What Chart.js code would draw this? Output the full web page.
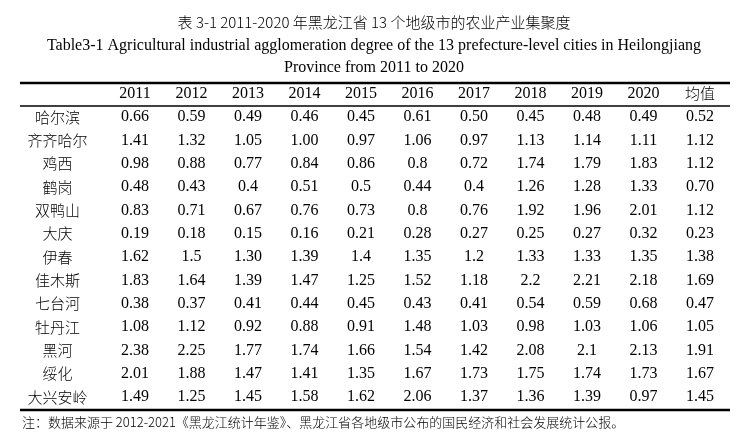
<!DOCTYPE html>
<html lang="zh">
<head>
<meta charset="UTF-8">
<script src="https://cdn.jsdelivr.net/npm/chart.js"></script>
<style>
  html, body { margin: 0; padding: 0; background: #fff; }
  #wrap { width: 748px; height: 439px; }
</style>
</head>
<body>
<div id="wrap"><canvas id="tbl"></canvas></div>
<script>
const columns = ['2011', '2012', '2013', '2014', '2015', '2016', '2017', '2018', '2019', '2020', '均值'];
const cities = ['哈尔滨', '齐齐哈尔', '鸡西', '鹤岗', '双鸭山', '大庆', '伊春', '佳木斯', '七台河', '牡丹江', '黑河', '绥化', '大兴安岭'];
// values as printed in the table, one array per city
const harbin     = ['0.66', '0.59', '0.49', '0.46', '0.45', '0.61', '0.50', '0.45', '0.48', '0.49', '0.52'];
const qiqihar    = ['1.41', '1.32', '1.05', '1.00', '0.97', '1.06', '0.97', '1.13', '1.14', '1.11', '1.12'];
const jixi       = ['0.98', '0.88', '0.77', '0.84', '0.86', '0.8', '0.72', '1.74', '1.79', '1.83', '1.12'];
const hegang     = ['0.48', '0.43', '0.4', '0.51', '0.5', '0.44', '0.4', '1.26', '1.28', '1.33', '0.70'];
const shuangyashan = ['0.83', '0.71', '0.67', '0.76', '0.73', '0.8', '0.76', '1.92', '1.96', '2.01', '1.12'];
const daqing     = ['0.19', '0.18', '0.15', '0.16', '0.21', '0.28', '0.27', '0.25', '0.27', '0.32', '0.23'];
const yichun     = ['1.62', '1.5', '1.30', '1.39', '1.4', '1.35', '1.2', '1.33', '1.33', '1.35', '1.38'];
const jiamusi    = ['1.83', '1.64', '1.39', '1.47', '1.25', '1.52', '1.18', '2.2', '2.21', '2.18', '1.69'];
const qitaihe    = ['0.38', '0.37', '0.41', '0.44', '0.45', '0.43', '0.41', '0.54', '0.59', '0.68', '0.47'];
const mudanjiang = ['1.08', '1.12', '0.92', '0.88', '0.91', '1.48', '1.03', '0.98', '1.03', '1.06', '1.05'];
const heihe      = ['2.38', '2.25', '1.77', '1.74', '1.66', '1.54', '1.42', '2.08', '2.1', '2.13', '1.91'];
const suihua     = ['2.01', '1.88', '1.47', '1.41', '1.35', '1.67', '1.73', '1.75', '1.74', '1.73', '1.67'];
const daxinganling = ['1.49', '1.25', '1.45', '1.58', '1.62', '2.06', '1.37', '1.36', '1.39', '0.97', '1.45'];
const rows = [harbin, qiqihar, jixi, hegang, shuangyashan, daqing, yichun, jiamusi, qitaihe, mudanjiang, heihe, suihua, daxinganling];

const titleCn = '表 3-1 2011-2020 年黑龙江省 13 个地级市的农业产业集聚度';
const titleEn1 = 'Table3-1 Agricultural industrial agglomeration degree of the 13 prefecture-level cities in Heilongjiang';
const titleEn2 = 'Province from 2011 to 2020';
const note = '注：数据来源于 2012-2021《黑龙江统计年鉴》、黑龙江省各地级市公布的国民经济和社会发展统计公报。';

const serif = '"Liberation Serif", "Times New Roman", serif';
const cjk = '"Noto Sans CJK SC", sans-serif';

// each cell is a scatter point (column, row); header row = -1, name column = -1.37
const datasets = [];
datasets.push({ label: 'header', data: columns.map((c, i) => ({ x: i, y: -1, t: c })) });
datasets.push({ label: 'names', data: cities.map((c, i) => ({ x: -1.37, y: i, t: c })) });
rows.forEach((r, ri) => {
  datasets.push({ label: cities[ri], data: r.map((v, ci) => ({ x: ci, y: ri, t: v, v: parseFloat(v) })) });
});

const tablePlugin = {
  id: 'tablePlugin',
  afterDatasetsDraw(chart) {
    const ctx = chart.ctx;
    const area = chart.chartArea;
    const ys = chart.scales.y;
    ctx.save();
    ctx.fillStyle = '#000';
    ctx.textAlign = 'center';
    ctx.textBaseline = 'middle';
    ctx.font = '300 15px ' + cjk;
    ctx.fillText(titleCn, 374, 22);
    ctx.font = '16px ' + serif;
    ctx.fillText(titleEn1, 374, 46);
    ctx.fillText(titleEn2, 374, 68);

    // rules
    ctx.strokeStyle = '#000';
    ctx.lineWidth = 2.5;
    ctx.beginPath(); ctx.moveTo(area.left, area.top); ctx.lineTo(area.right, area.top); ctx.stroke();
    ctx.beginPath(); ctx.moveTo(area.left, area.bottom); ctx.lineTo(area.right, area.bottom); ctx.stroke();
    ctx.lineWidth = 1.5;
    const mid = ys.getPixelForValue(-0.47);
    ctx.beginPath(); ctx.moveTo(area.left, mid); ctx.lineTo(area.right, mid); ctx.stroke();

    chart.data.datasets.forEach((ds, di) => {
      const meta = chart.getDatasetMeta(di);
      meta.data.forEach((pt, i) => {
        const t = ds.data[i].t;
        const isCjk = /[\u4e00-\u9fff]/.test(t);
        ctx.font = (isCjk ? '300 15px ' + cjk : '16px ' + serif);
        ctx.fillText(t, pt.x, pt.y);
      });
    });

    ctx.textAlign = 'left';
    ctx.font = '300 13px ' + cjk;
    ctx.fillText(note, 22, 422);
    ctx.restore();
  }
};

new Chart(document.getElementById('tbl'), {
  type: 'scatter',
  data: { datasets },
  options: {
    responsive: true,
    maintainAspectRatio: false,
    animation: false,
    layout: { padding: { left: 20, right: 18, top: 83, bottom: 29 } },
    elements: { point: { radius: 0, hoverRadius: 0 } },
    plugins: { legend: { display: false }, tooltip: { enabled: false } },
    scales: {
      x: { type: 'linear', display: false, min: -2.035, max: 10.53 },
      y: { type: 'linear', display: false, reverse: true, min: -1.457, max: 12.557 }
    }
  },
  plugins: [tablePlugin]
});
</script>
</body>
</html>
